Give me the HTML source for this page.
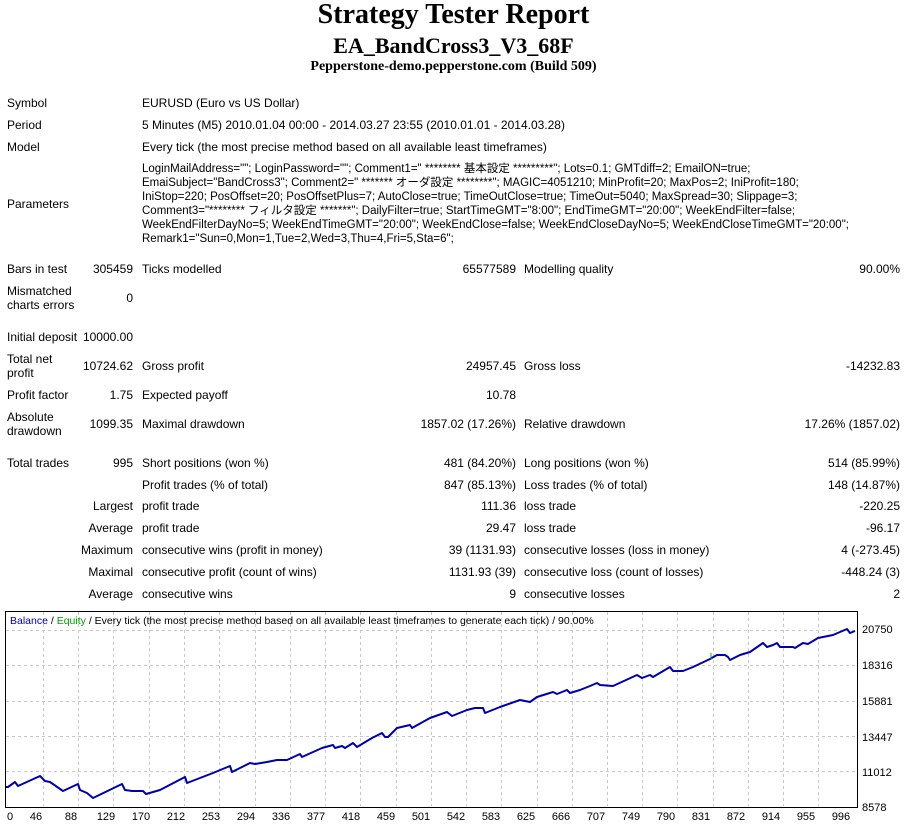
<!DOCTYPE html>
<html><head><meta charset="utf-8"><style>
body{margin:0;width:907px;height:824px;background:#fff;position:relative;overflow:hidden;font-family:"Liberation Sans","Noto Sans CJK JP",sans-serif;color:#000}
.t{position:absolute;white-space:nowrap;font-size:12px;line-height:14px}
.r{position:absolute;white-space:nowrap;font-size:12px;line-height:14px;text-align:right}
.h{position:absolute;left:0;width:907px;text-align:center;font-family:"Liberation Serif",serif;font-weight:bold;white-space:nowrap}
</style></head><body>
<div class="h" style="top:-1px;font-size:28px;line-height:32px">Strategy Tester Report</div>
<div class="h" style="top:33px;font-size:22px;line-height:26px">EA_BandCross3_V3_68F</div>
<div class="h" style="top:58px;font-size:14px;line-height:17px">Pepperstone-demo.pepperstone.com (Build 509)</div>

<div class="t" style="left:7px;top:96px">Symbol</div>
<div class="t" style="left:142px;top:96px">EURUSD (Euro vs US Dollar)</div>
<div class="t" style="left:7px;top:118px">Period</div>
<div class="t" style="left:142px;top:118px">5 Minutes (M5) 2010.01.04 00:00 - 2014.03.27 23:55 (2010.01.01 - 2014.03.28)</div>
<div class="t" style="left:7px;top:140px">Model</div>
<div class="t" style="left:142px;top:140px">Every tick (the most precise method based on all available least timeframes)</div>
<div class="t" style="left:7px;top:197px">Parameters</div>
<div class="t" style="left:142px;top:162px;line-height:14px;font-size:11.5px">LoginMailAddress=""; LoginPassword=""; Comment1=" ******** 基本設定 *********"; Lots=0.1; GMTdiff=2; EmailON=true;<br>EmaiSubject="BandCross3"; Comment2=" ******* オーダ設定 ********"; MAGIC=4051210; MinProfit=20; MaxPos=2; IniProfit=180;<br>IniStop=220; PosOffset=20; PosOffsetPlus=7; AutoClose=true; TimeOutClose=true; TimeOut=5040; MaxSpread=30; Slippage=3;<br>Comment3="******** フィルタ設定 *******"; DailyFilter=true; StartTimeGMT="8:00"; EndTimeGMT="20:00"; WeekEndFilter=false;<br>WeekEndFilterDayNo=5; WeekEndTimeGMT="20:00"; WeekEndClose=false; WeekEndCloseDayNo=5; WeekEndCloseTimeGMT="20:00";<br>Remark1="Sun=0,Mon=1,Tue=2,Wed=3,Thu=4,Fri=5,Sta=6";</div>

<div class="t" style="left:7px;top:262px">Bars in test</div>
<div class="r" style="right:774px;top:262px">305459</div>
<div class="t" style="left:142px;top:262px">Ticks modelled</div>
<div class="r" style="right:391px;top:262px">65577589</div>
<div class="t" style="left:524px;top:262px">Modelling quality</div>
<div class="r" style="right:7px;top:262px">90.00%</div>

<div class="t" style="left:7px;top:284px">Mismatched<br>charts errors</div>
<div class="r" style="right:774px;top:291px">0</div>

<div class="t" style="left:7px;top:330px">Initial deposit</div>
<div class="r" style="right:774px;top:330px">10000.00</div>

<div class="t" style="left:7px;top:352px">Total net<br>profit</div>
<div class="r" style="right:774px;top:359px">10724.62</div>
<div class="t" style="left:142px;top:359px">Gross profit</div>
<div class="r" style="right:391px;top:359px">24957.45</div>
<div class="t" style="left:524px;top:359px">Gross loss</div>
<div class="r" style="right:7px;top:359px">-14232.83</div>

<div class="t" style="left:7px;top:388px">Profit factor</div>
<div class="r" style="right:774px;top:388px">1.75</div>
<div class="t" style="left:142px;top:388px">Expected payoff</div>
<div class="r" style="right:391px;top:388px">10.78</div>

<div class="t" style="left:7px;top:410px">Absolute<br>drawdown</div>
<div class="r" style="right:774px;top:417px">1099.35</div>
<div class="t" style="left:142px;top:417px">Maximal drawdown</div>
<div class="r" style="right:391px;top:417px">1857.02 (17.26%)</div>
<div class="t" style="left:524px;top:417px">Relative drawdown</div>
<div class="r" style="right:7px;top:417px">17.26% (1857.02)</div>

<div class="t" style="left:7px;top:456px">Total trades</div>
<div class="r" style="right:774px;top:456px">995</div>
<div class="t" style="left:142px;top:456px">Short positions (won %)</div>
<div class="r" style="right:391px;top:456px">481 (84.20%)</div>
<div class="t" style="left:524px;top:456px">Long positions (won %)</div>
<div class="r" style="right:7px;top:456px">514 (85.99%)</div>

<div class="t" style="left:142px;top:478px">Profit trades (% of total)</div>
<div class="r" style="right:391px;top:478px">847 (85.13%)</div>
<div class="t" style="left:524px;top:478px">Loss trades (% of total)</div>
<div class="r" style="right:7px;top:478px">148 (14.87%)</div>

<div class="r" style="right:774px;top:499px">Largest</div>
<div class="t" style="left:142px;top:499px">profit trade</div>
<div class="r" style="right:391px;top:499px">111.36</div>
<div class="t" style="left:524px;top:499px">loss trade</div>
<div class="r" style="right:7px;top:499px">-220.25</div>

<div class="r" style="right:774px;top:521px">Average</div>
<div class="t" style="left:142px;top:521px">profit trade</div>
<div class="r" style="right:391px;top:521px">29.47</div>
<div class="t" style="left:524px;top:521px">loss trade</div>
<div class="r" style="right:7px;top:521px">-96.17</div>

<div class="r" style="right:774px;top:543px">Maximum</div>
<div class="t" style="left:142px;top:543px">consecutive wins (profit in money)</div>
<div class="r" style="right:391px;top:543px">39 (1131.93)</div>
<div class="t" style="left:524px;top:543px">consecutive losses (loss in money)</div>
<div class="r" style="right:7px;top:543px">4 (-273.45)</div>

<div class="r" style="right:774px;top:565px">Maximal</div>
<div class="t" style="left:142px;top:565px">consecutive profit (count of wins)</div>
<div class="r" style="right:391px;top:565px">1131.93 (39)</div>
<div class="t" style="left:524px;top:565px">consecutive loss (count of losses)</div>
<div class="r" style="right:7px;top:565px">-448.24 (3)</div>

<div class="r" style="right:774px;top:587px">Average</div>
<div class="t" style="left:142px;top:587px">consecutive wins</div>
<div class="r" style="right:391px;top:587px">9</div>
<div class="t" style="left:524px;top:587px">consecutive losses</div>
<div class="r" style="right:7px;top:587px">2</div>

<svg style="position:absolute;left:0;top:0" width="907" height="824">
<g stroke="#c8c8c8" stroke-dasharray="3,3" stroke-width="1">
<line x1="6" y1="630.5" x2="857" y2="630.5"/><line x1="6" y1="665.5" x2="857" y2="665.5"/>
<line x1="6" y1="701.5" x2="857" y2="701.5"/><line x1="6" y1="736.5" x2="857" y2="736.5"/>
<line x1="6" y1="771.5" x2="857" y2="771.5"/>
<line x1="43.5" y1="612" x2="43.5" y2="806"/><line x1="78.5" y1="612" x2="78.5" y2="806"/><line x1="113.5" y1="612" x2="113.5" y2="806"/><line x1="149.5" y1="612" x2="149.5" y2="806"/><line x1="184.5" y1="612" x2="184.5" y2="806"/><line x1="219.5" y1="612" x2="219.5" y2="806"/><line x1="255.5" y1="612" x2="255.5" y2="806"/><line x1="290.5" y1="612" x2="290.5" y2="806"/><line x1="325.5" y1="612" x2="325.5" y2="806"/><line x1="360.5" y1="612" x2="360.5" y2="806"/><line x1="396.5" y1="612" x2="396.5" y2="806"/><line x1="431.5" y1="612" x2="431.5" y2="806"/><line x1="466.5" y1="612" x2="466.5" y2="806"/><line x1="501.5" y1="612" x2="501.5" y2="806"/><line x1="537.5" y1="612" x2="537.5" y2="806"/><line x1="572.5" y1="612" x2="572.5" y2="806"/><line x1="607.5" y1="612" x2="607.5" y2="806"/><line x1="642.5" y1="612" x2="642.5" y2="806"/><line x1="677.5" y1="612" x2="677.5" y2="806"/><line x1="713.5" y1="612" x2="713.5" y2="806"/><line x1="748.5" y1="612" x2="748.5" y2="806"/><line x1="783.5" y1="612" x2="783.5" y2="806"/><line x1="818.5" y1="612" x2="818.5" y2="806"/>
</g>
<rect x="5.5" y="611.5" width="852" height="196" fill="none" stroke="#000" stroke-width="1"/>
<polyline fill="none" stroke="#0000aa" stroke-width="2" stroke-linejoin="round" points="6,787 8,787 15,782 18,786 40,776 45,781 50,782 63,791 78,784 80,790 87,793 93,798 122,784 125,790 132,791 143,791 146,794 160,790 185,777 187,783 213,773 230,766 232,772 250,763 255,764 267,762 277,760 287,760 300,754 302,757 322,748 333,745 335,748 342,746 345,748 353,743 357,747 372,738 382,733 385,737 388,737 397,728 410,725 412,728 430,718 447,712 452,716 467,710 475,708 483,708 485,713 500,707 520,700 530,702 537,697 553,692 557,694 567,690 570,693 580,690 590,686 597,683 600,685 613,686 637,675 642,678 650,675 653,677 670,667 673,671 683,671 693,667 710,659 717,655 725,655 728,657 730,660 740,655 750,652 763,643 767,647 773,645 777,643 780,647 793,647 795,648 803,643 808,644 818,638 833,635 847,629 850,633 855,631"/>
<line x1="711" y1="659" x2="711" y2="653" stroke="#00c000" stroke-width="1"/>
<g font-family="Liberation Sans, sans-serif" font-size="11" fill="#000">
<text x="10" y="624" font-size="10.5"><tspan fill="#0000aa">Balance</tspan> / <tspan fill="#00a000">Equity</tspan> / Every tick (the most precise method based on all available least timeframes to generate each tick) / 90.00%</text>
<text x="862" y="633">20750</text><text x="862" y="669">18316</text><text x="862" y="705">15881</text><text x="862" y="741">13447</text><text x="862" y="776">11012</text><text x="862" y="811">8578</text>
</g>
<g font-family="Liberation Sans, sans-serif" font-size="11" fill="#000" text-anchor="middle">
<text x="10" y="820">0</text><text x="36" y="820">46</text><text x="71" y="820">88</text><text x="106" y="820">129</text><text x="141" y="820">170</text><text x="176" y="820">212</text><text x="211" y="820">253</text><text x="246" y="820">294</text><text x="281" y="820">336</text><text x="316" y="820">377</text><text x="351" y="820">418</text><text x="386" y="820">459</text><text x="421" y="820">501</text><text x="456" y="820">542</text><text x="491" y="820">583</text><text x="526" y="820">625</text><text x="561" y="820">666</text><text x="596" y="820">707</text><text x="631" y="820">749</text><text x="666" y="820">790</text><text x="701" y="820">831</text><text x="736" y="820">872</text><text x="771" y="820">914</text><text x="806" y="820">955</text><text x="841" y="820">996</text>
</g>
</svg>
</body></html>
